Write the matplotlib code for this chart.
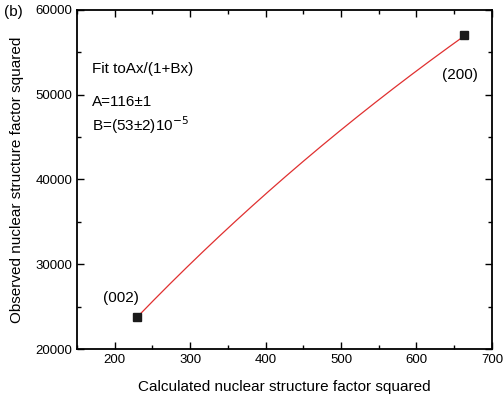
import numpy as np
import matplotlib.pyplot as plt

plt.rcParams['font.family'] = ['Liberation Sans', 'DejaVu Sans']

# measured points
calc_f2 = [230, 663]
obs_f2 = [23800, 57000]
labels = ['(002)', '(200)']

# fit parameters shown on the chart: y = A x / (1 + B x)
A_fit = 116
B_fit = 53e-5

fig = plt.figure(figsize=(5.03, 3.98), dpi=100)
ax = fig.add_axes([0.153, 0.123, 0.825, 0.852])

xf = np.linspace(calc_f2[0], calc_f2[1], 200)
ax.plot(xf, A_fit * xf / (1 + B_fit * xf), color='#e03030', lw=0.9, zorder=2)
ax.plot(calc_f2, obs_f2, ls='none', marker='s', ms=6, color='#1a1a1a', zorder=3)

ax.set_xlim(150, 700)
ax.set_ylim(20000, 60000)
ax.set_xticks([200, 300, 400, 500, 600, 700])
ax.set_xticks(np.arange(150, 701, 50), minor=True)
ax.set_yticks([20000, 30000, 40000, 50000, 60000])
ax.set_yticks(np.arange(20000, 60001, 5000), minor=True)
ax.tick_params(which='both', direction='in', top=True, right=True, labelsize=9.5)
ax.tick_params(which='major', length=5, width=1)
ax.tick_params(which='minor', length=3, width=1)
for s in ax.spines.values():
    s.set_linewidth(1.3)

ax.set_xlabel('Calculated nuclear structure factor squared', fontsize=11, labelpad=10)
ax.set_ylabel('Observed nuclear structure factor squared', fontsize=11, labelpad=8)

ax.text(184, 26000, labels[0], fontsize=11, ha='left', va='center')
ax.text(634, 52300, labels[1], fontsize=11, ha='left', va='center')
ax.text(170, 53000, 'Fit toAx/(1+Bx)', fontsize=11, va='center')
ax.text(170, 49100, 'A=116±1', fontsize=11, va='center')
ax.text(170, 46400, 'B=(53±2)10$^{-5}$', fontsize=11, va='center')
fig.text(0.008, 0.97, '(b)', fontsize=11, va='center')

fig.savefig('out.png', dpi=100)
